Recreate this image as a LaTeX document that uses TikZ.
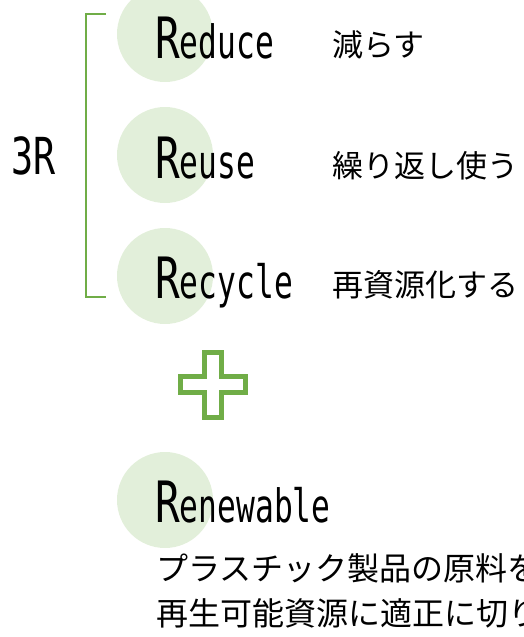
\documentclass[tikz,border=0pt]{standalone}
\usepackage{fontspec}
\newfontfamily\condfont[FakeStretch=0.72]{DejaVu Sans Mono}
\newfontfamily\narrowfont[FakeStretch=0.68]{DejaVu Sans Mono}
\newfontfamily\jpfont{Noto Sans CJK JP}
\definecolor{leafgreen}{HTML}{70AD47}
\definecolor{paleleaf}{HTML}{E2EFDA}
\newcommand{\Rword}[1]{{\condfont\fontsize{57}{57}\selectfont R}{\narrowfont\fontsize{46}{46}\selectfont #1}}
\tikzset{
  disc/.style={circle, fill=paleleaf, draw=none, minimum size=96pt, inner sep=0pt},
  rterm/.style={anchor=base west, inner sep=0pt, text=black},
  jplabel/.style={anchor=base west, inner sep=0pt, text=black, font=\jpfont\fontsize{31}{31}\selectfont},
  jpbody/.style={anchor=base west, inner sep=0pt, text=black, font=\jpfont\fontsize{32}{32}\selectfont},
  bracketline/.style={draw=leafgreen, line width=2.2pt},
  crossline/.style={draw=leafgreen, fill=white, line width=4.5pt, line join=miter}
}
\begin{document}
\begin{tikzpicture}[x=1pt, y=-1pt]
\useasboundingbox (0,0) rectangle (523,637);
\clip (0,0) rectangle (523,637);
% circles
\node[disc] (c1) at (165,34) {};
\node[disc] (c2) at (165,155) {};
\node[disc] (c3) at (165,276) {};
\node[disc] (c4) at (165,500) {};
% bracket
\coordinate (bt) at (106,14);
\coordinate (btc) at (86,14);
\coordinate (bbc) at (86,297);
\coordinate (bb) at (106,297);
\draw[bracketline] (bt) -- (btc) -- (bbc) -- (bb);
% 3R
\node[rterm, font=\condfont\fontsize{51}{51}\selectfont] (threeR) at (11,174) {3R};
% terms
\node[rterm] (reduce) at (155,58) {\Rword{educe}};
\node[rterm] (reuse) at (155,178) {\Rword{euse}};
\node[rterm] (recycle) at (155,298) {\Rword{ecycle}};
\node[rterm] (renew) at (155,522) {\Rword{enewable}};
% japanese labels
\node[jplabel] (j1) at (332,56) {減らす};
\node[jplabel] (j2) at (332,177) {繰り返し使う};
\node[jplabel] (j3) at (332,296) {再資源化する};
% plus
\draw[crossline] (204.5,352.5) -- (221.5,352.5) -- (221.5,376.5) -- (245.5,376.5) -- (245.5,392.5) -- (221.5,392.5) -- (221.5,417.5) -- (204.5,417.5) -- (204.5,392.5) -- (180.5,392.5) -- (180.5,376.5) -- (204.5,376.5) -- cycle;
% body text
\node[jpbody] (b1) at (156,580) {プラスチック製品の原料を};
\node[jpbody] (b2) at (156,625) {再生可能資源に適正に切り};
\end{tikzpicture}
\end{document}
